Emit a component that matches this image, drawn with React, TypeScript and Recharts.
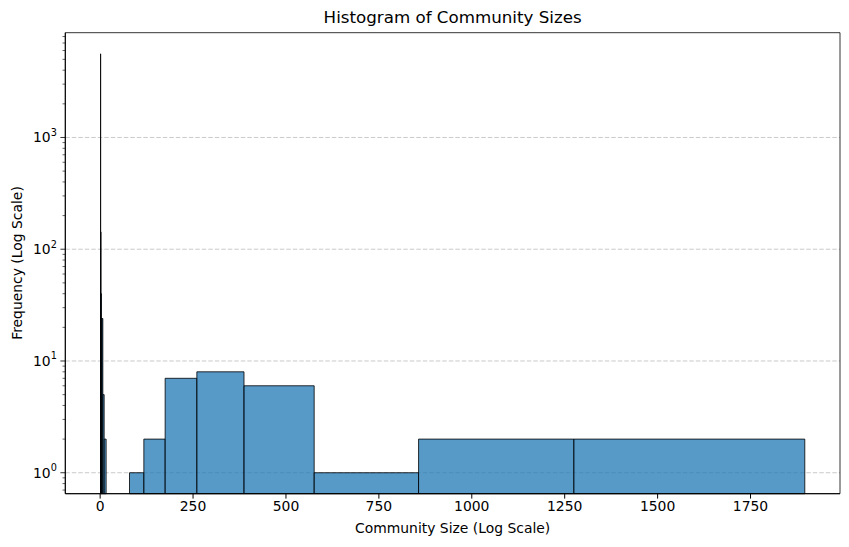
import {
  CartesianGrid,
  ComposedChart,
  ReferenceArea,
  Scatter,
  XAxis,
  YAxis,
} from "recharts";

// log-spaced bin edges (20 edges -> 19 bins)
const binEdges = [
  1, 1.488, 2.213, 3.293, 4.899, 7.288, 10.84, 16.13, 24.0, 35.7, 53.1, 79.0,
  117.6, 174.9, 260.2, 387.1, 575.9, 856.8, 1274.6, 1896,
];
const binCounts = [5600, 143, 40, 24, 24, 5, 2, 0, 0, 0, 0, 1, 2, 7, 8, 6, 1, 2, 2];

const xTicks = [0, 250, 500, 750, 1000, 1250, 1500, 1750];
const yMajorTicks = [1, 10, 100, 1000];
const yMinorTicks = [
  0.7, 0.8, 0.9, 2, 3, 4, 5, 6, 7, 8, 9, 20, 30, 40, 50, 60, 70, 80, 90, 200,
  300, 400, 500, 600, 700, 800, 900, 2000, 3000, 4000, 5000, 6000, 7000, 8000,
];

const xDomain: [number, number] = [-93.75, 1990.75];
const yDomain: [number, number] = [Math.pow(10, -0.1875), Math.pow(10, 3.9375)];

const FONT = "'DejaVu Sans', sans-serif";
const BAR_FILL = "#1f77b4";

const bins = binCounts.map((count, i) => ({
  x0: binEdges[i],
  x1: binEdges[i + 1],
  count,
}));

const anchors = bins.filter((b) => b.count > 0).map((b) => ({ x: b.x0, y: b.count }));

const YTick = (props: any) => {
  const { x, y, payload } = props;
  const v = payload.value as number;
  const isMajor = yMajorTicks.includes(v);
  if (!isMajor) {
    return <line x1={x} x2={x - 2.8} y1={y} y2={y} stroke="#000" strokeWidth={0.6} />;
  }
  const exp = Math.round(Math.log10(v));
  return (
    <g>
      <line x1={x} x2={x - 4.9} y1={y} y2={y} stroke="#000" strokeWidth={0.8} />
      <text
        x={x - 8.5}
        y={y + 5}
        textAnchor="end"
        fontFamily={FONT}
        fontSize={13.9}
        fill="#000"
      >
        10
        <tspan dy={-6.5} fontSize={9.7}>
          {exp}
        </tspan>
      </text>
    </g>
  );
};

export default function App() {
  return (
    <div
      style={{
        position: "fixed",
        left: 0,
        top: 0,
        width: 849,
        height: 547,
        background: "#fff",
        fontFamily: FONT,
      }}
    >
      <ComposedChart
        width={849}
        height={547}
        margin={{ top: 32.7, right: 9, left: 0, bottom: 0 }}
      >
        <CartesianGrid
          vertical={false}
          horizontalValues={yMajorTicks}
          stroke="#c4c4c4"
          strokeDasharray="4.5 2"
          strokeWidth={0.9}
        />
        <XAxis
          type="number"
          dataKey="x"
          domain={xDomain}
          allowDataOverflow
          ticks={xTicks}
          interval={0}
          height={53.3}
          tickSize={4.9}
          tickMargin={2.5}
          stroke="#000"
          tick={{ fill: "#000", fontSize: 13.9, fontFamily: FONT }}
        />
        <YAxis
          type="number"
          dataKey="y"
          scale="log"
          domain={yDomain}
          allowDataOverflow
          ticks={[...yMajorTicks, ...yMinorTicks]}
          interval={0}
          width={65.3}
          tickSize={0}
          tickMargin={0}
          tickLine={false}
          stroke="#000"
          tick={<YTick />}
        />
        <Scatter
          data={anchors}
          isAnimationActive={false}
          shape={() => <g />}
        />
        {bins
          .filter((b) => b.count > 0)
          .map((b, i) => (
            <ReferenceArea
              key={`bin-${i}`}
              x1={b.x0}
              x2={b.x1}
              y1={yDomain[0]}
              y2={b.count}
              fill={BAR_FILL}
              fillOpacity={0.75}
              stroke="#000"
              strokeOpacity={0.8}
              strokeWidth={1}
              ifOverflow="extendDomain"
            />
          ))}
        <ReferenceArea
          x1={xDomain[0]}
          x2={xDomain[1]}
          y1={yDomain[0]}
          y2={yDomain[1]}
          fill="none"
          fillOpacity={0}
          stroke="#000"
          strokeWidth={0.8}
        />
      </ComposedChart>
      <div
        style={{
          position: "absolute",
          left: 65.3,
          width: 774.7,
          top: 7,
          textAlign: "center",
          fontSize: 16.7,
          color: "#000",
        }}
      >
        Histogram of Community Sizes
      </div>
      <div
        style={{
          position: "absolute",
          left: 65.3,
          width: 774.7,
          top: 520,
          textAlign: "center",
          fontSize: 13.9,
          color: "#000",
        }}
      >
        Community Size (Log Scale)
      </div>
      <div
        style={{
          position: "absolute",
          left: 17,
          top: 263,
          transform: "translate(-50%, -50%) rotate(-90deg)",
          whiteSpace: "nowrap",
          fontSize: 13.9,
          color: "#000",
        }}
      >
        Frequency (Log Scale)
      </div>
    </div>
  );
}
